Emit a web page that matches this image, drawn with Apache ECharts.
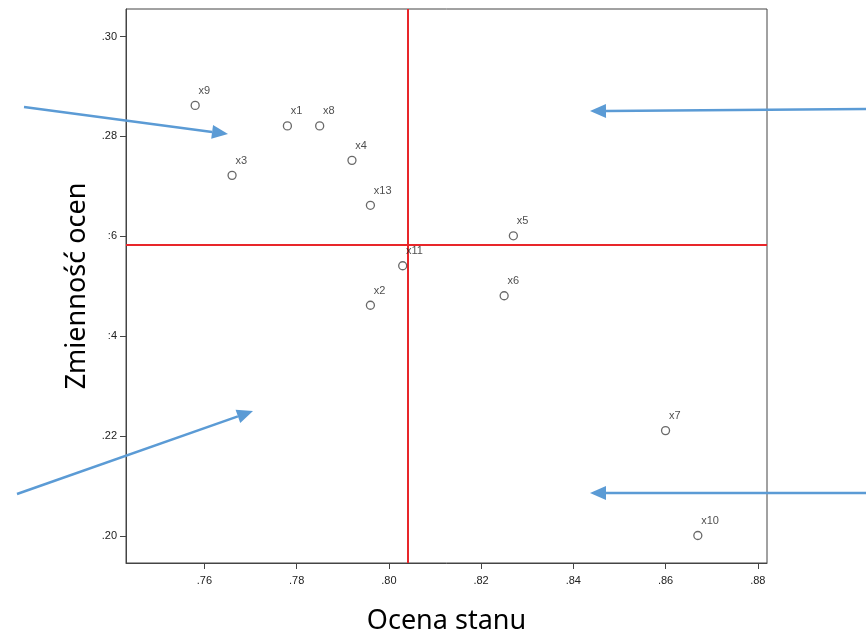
<!DOCTYPE html>
<html>
<head>
<meta charset="utf-8">
<script src="https://cdn.jsdelivr.net/npm/echarts@6/dist/echarts.min.js"></script>
<style>html,body{margin:0;padding:0;background:#fff}#c{width:866px;height:636px}</style>
</head>
<body>
<div id="c"></div>
<script>
const names = ['x9','x1','x8','x4','x3','x13','x5','x11','x6','x2','x7','x10'];
const ocenaStanu = [0.758,0.778,0.785,0.792,0.766,0.796,0.827,0.803,0.825,0.796,0.860,0.867];
const zmiennoscOcen = [0.2862,0.2821,0.2821,0.2752,0.2722,0.2662,0.2601,0.2541,0.2481,0.2462,0.2211,0.2001];
const xTicks = [0.76,0.78,0.80,0.82,0.84,0.86,0.88];
const xTickLabels = ['.76','.78','.80','.82','.84','.86','.88'];
const yTicks = [0.20,0.22,0.24,0.26,0.28,0.30];
const yTickLabels = ['.20','.22',':4',':6','.28','.30'];
const refX = 0.804;
const refY = 0.2583;

function lab(ticks, labels){
  return function(v){
    let best = 0, d = 1e9;
    ticks.forEach((t,i)=>{ if (Math.abs(t-v) < d){ d = Math.abs(t-v); best = i; } });
    return labels[best];
  };
}

const chart = echarts.init(document.getElementById('c'), null, {renderer:'canvas'});
const blue = '#5b9bd5';
function arrow(x1,y1,x2,y2){
  const ang = Math.atan2(y2-y1, x2-x1);
  const L = 16, W = 7;
  const bx = x2 - L*Math.cos(ang), by = y2 - L*Math.sin(ang);
  const px = -Math.sin(ang)*W, py = Math.cos(ang)*W;
  return [
    {type:'line', shape:{x1:x1,y1:y1,x2:bx,y2:by}, style:{stroke:blue,lineWidth:2.5}, z:10},
    {type:'polygon', shape:{points:[[x2,y2],[bx+px,by+py],[bx-px,by-py]]}, style:{fill:blue}, z:10}
  ];
}

chart.setOption({
  animation:false,
  backgroundColor:'#fff',
  grid:{left:126, right:99, top:9, bottom:73, outerBoundsMode:'none', containLabel:false,
    show:true, borderColor:'#444', borderWidth:1, backgroundColor:'transparent'},
  xAxis:{
    type:'value', min:0.7430, max:0.8820,
    name:'Ocena stanu', nameLocation:'middle', nameGap:45,
    nameTextStyle:{fontFamily:'Noto Sans', fontSize:27, color:'#000'},
    axisLine:{show:true, lineStyle:{color:'#444'}},
    axisTick:{show:true, length:6, lineStyle:{color:'#444'}, customValues:xTicks},
    axisLabel:{customValues:xTicks, formatter:lab(xTicks,xTickLabels), fontFamily:'Liberation Sans', fontSize:11, color:'#222', margin:12},
    splitLine:{show:false}
  },
  yAxis:{
    type:'value', min:0.1946, max:0.3055,
    name:'Zmienność ocen', nameLocation:'middle', nameGap:32, nameRotate:90,
    nameTextStyle:{fontFamily:'Noto Sans', fontSize:27, color:'#000'},
    axisLine:{show:true, lineStyle:{color:'#444'}},
    axisTick:{show:true, length:6, lineStyle:{color:'#444'}, customValues:yTicks},
    axisLabel:{customValues:yTicks, formatter:lab(yTicks,yTickLabels), fontFamily:'Liberation Sans', fontSize:11, color:'#222', margin:9},
    splitLine:{show:false}
  },
  series:[{
    type:'scatter',
    data: names.map((n,i)=>({name:n, value:[ocenaStanu[i], zmiennoscOcen[i]]})),
    symbol:'circle', symbolSize:8,
    itemStyle:{color:'#fff', borderColor:'#444', borderWidth:1.3},
    label:{show:true, formatter:'{b}', position:[8,-10], align:'left', verticalAlign:'middle',
      fontFamily:'Liberation Sans', fontSize:11, color:'#222'},
    emphasis:{disabled:true},
    markLine:{
      silent:true, symbol:['none','none'], label:{show:false}, precision:4,
      lineStyle:{color:'#e8262a', width:2, type:'solid'},
      data:[{xAxis:refX},{yAxis:refY}]
    },
    z:5
  }],
  graphic: [].concat(
    arrow(24,107,228,134),
    arrow(866,109,590,111),
    arrow(17,494,253,411),
    arrow(866,493,590,493)
  )
});
</script>
</body>
</html>
